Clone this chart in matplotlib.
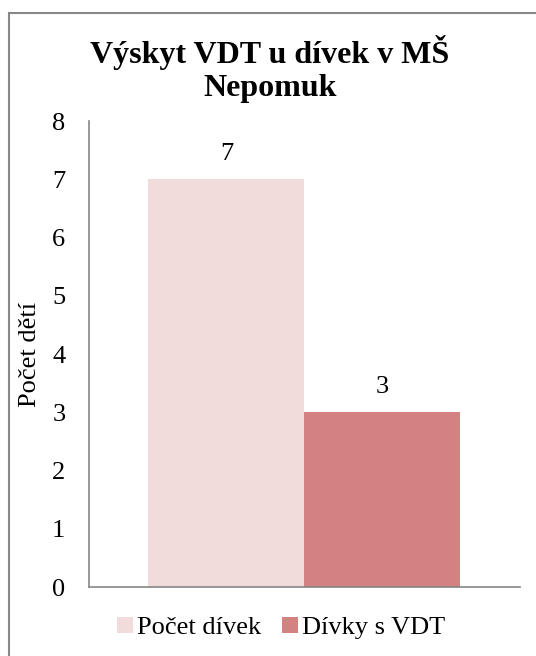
import matplotlib.pyplot as plt
from matplotlib.patches import Rectangle

plt.rcParams['font.family'] = ['Liberation Serif', 'DejaVu Serif']

# data
series = ['Počet dívek', 'Dívky s VDT']
values = [7, 3]
colors = ['#F2DCDB', '#D38281']
title = 'Výskyt VDT u dívek v MŠ\nNepomuk'
ylabel = 'Počet dětí'

fig = plt.figure(figsize=(5.36, 6.56), dpi=100)
ax = fig.add_axes([0.166, 0.105, 0.804, 0.7104])

width = 0.362
offsets = [-width / 2, width / 2]
for name, v, c, off in zip(series, values, colors, offsets):
    ax.bar(off, v, width=width, color=c, label=name)
    ax.text(off, v + 0.25, str(v), ha='center', va='bottom', fontsize=19)

ax.set_xlim(-0.5, 0.5)
ax.set_ylim(0, 8)
ax.set_yticks(range(0, 9))
ax.set_xticks([])
ax.tick_params(axis='y', length=0, pad=17, labelsize=19)
ax.set_ylabel(ylabel, fontsize=19, labelpad=8)
for s in ['top', 'right']:
    ax.spines[s].set_visible(False)
for s in ['left', 'bottom']:
    ax.spines[s].set_color('#868686')
    ax.spines[s].set_linewidth(1.2)

fig.text(270 / 536, 1 - 69 / 656, title, ha='center', va='center',
         fontsize=23, fontweight='bold', linespacing=1.2)

ax.legend(loc='center', bbox_to_anchor=(281 / 536, 1 - 628 / 656),
          bbox_transform=fig.transFigure, ncol=2, frameon=False,
          fontsize=19, handlelength=0.6, handleheight=0.6,
          handletextpad=0.15, columnspacing=0.8)

# chart area border
fig.add_artist(Rectangle((9 / 536, -0.1), 1.0, 1.1 - 13 / 656, fill=False,
                         edgecolor='#888888', lw=1.5,
                         transform=fig.transFigure))

fig.savefig('out.png', dpi=100)
